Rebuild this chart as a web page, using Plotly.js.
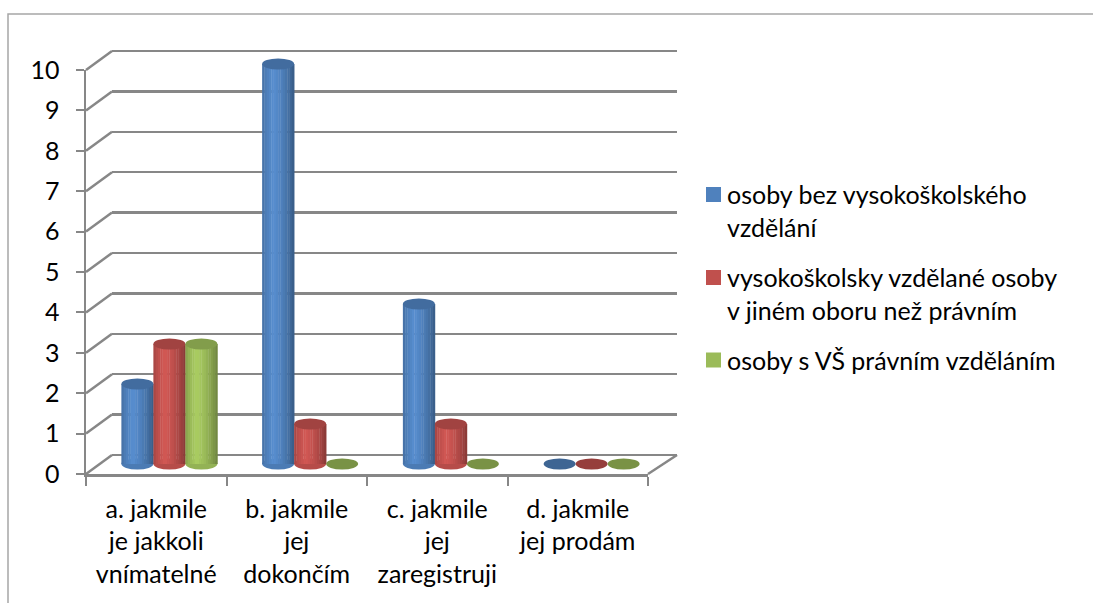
<!DOCTYPE html>
<html><head><meta charset="utf-8">
<script src="https://cdn.plot.ly/plotly-3.0.1.min.js"></script>
<style>html,body{margin:0;padding:0;background:#fff}#chart{width:1093px;height:603px}</style>
</head><body><div id="chart"></div>
<script>
// ---- data ----
const categories = ["a. jakmile<br>je jakkoli<br>vnímatelné", "b. jakmile<br>jej<br>dokončím", "c. jakmile<br>jej<br>zaregistruji", "d. jakmile<br>jej prodám"];
const seriesNames = ["osoby bez vysokoškolského<br>vzdělání", "vysokoškolsky vzdělané osoby<br>v jiném oboru než právním", "osoby s VŠ právním vzděláním"];
const seriesBez = [2, 10, 4, 0];
const seriesJiny = [3, 1, 1, 0];
const seriesPravni = [3, 0, 0, 0];
const yTicks = [0, 1, 2, 3, 4, 5, 6, 7, 8, 9, 10];
const seriesColors = ["#4F81BD", "#C0504D", "#9BBB59"];

// ---- geometry (pixels) ----
const W = 1093, H = 603;
const px = p => p / W, py = p => 1 - p / H;
const FONT = "Lato, 'Open Sans', sans-serif";
const FS = 25;
const GRID = "#878787";
const front = {x0: 86, x1: 648, y0: 474, y1: 70};   // y0: value 0, y1: value 10
const back  = {x0: 112, x1: 677, y0: 455, y1: 51};
const bars  = {x0: 99, x1: 662, y0: 464, y1: 64};
const yMax = 10, pad = 0.5;
function padDomain(b) {
  const u = (b.y0 - b.y1) / yMax;
  return [py(b.y0 + pad * u), py(b.y1 - pad * u)];
}

function shadeColor(hex, f) {
  const n = parseInt(hex.slice(1), 16);
  const c = [(n >> 16) & 255, (n >> 8) & 255, n & 255].map(v => Math.max(0, Math.min(255, Math.round(v * f))));
  return "rgb(" + c.join(",") + ")";
}
const profT = [0, 0.12, 0.35, 0.6, 0.85, 1];
const profF = [0.86, 0.97, 1.1, 1.0, 0.84, 0.7];
function profile(t) {
  for (let i = 1; i < profT.length; i++) {
    if (t <= profT[i]) {
      const a = (t - profT[i - 1]) / (profT[i] - profT[i - 1]);
      return profF[i - 1] + a * (profF[i] - profF[i - 1]);
    }
  }
  return profF[profF.length - 1];
}

const values = [seriesBez, seriesJiny, seriesPravni];
const catW = (bars.x1 - bars.x0) / categories.length;
const bw = 32 / catW;                 // bar width in category units
const start = -1.5 * bw;
const N = 14;
const traces = [];
// invisible traces to set up the front and back axes
traces.push({type: "scatter", x: categories, y: categories.map(() => 0), xaxis: "x", yaxis: "y", mode: "markers", marker: {opacity: 0}, hoverinfo: "skip", showlegend: false});
traces.push({type: "scatter", x: [0], y: [0], xaxis: "x2", yaxis: "y2", mode: "markers", marker: {opacity: 0}, hoverinfo: "skip", showlegend: false});

values.forEach((vals, s) => {
  for (let k = 0; k < N; k++) {
    const t = (k + 0.5) / N;
    traces.push({
      type: "bar", x: categories, y: vals, xaxis: "x3", yaxis: "y3",
      width: bw / N * 1.15, offset: start + s * bw + k * bw / N,
      marker: {color: shadeColor(seriesColors[s], profile(t)), line: {width: 0}},
      hoverinfo: "skip", showlegend: false
    });
  }
});

const shapes = [];
const unit = (bars.y0 - bars.y1) / yMax;
const ry = 5.5 / unit;
values.forEach((vals, s) => {
  vals.forEach((v, i) => {
    const cx = i + start + (s + 0.5) * bw;
    if (v > 0) {
      shapes.push({type: "circle", xref: "x3", yref: "y3", layer: "below",
        x0: cx - bw / 2, x1: cx + bw / 2, y0: -ry, y1: ry,
        fillcolor: shadeColor(seriesColors[s], 0.95), line: {width: 0}});
    }
    shapes.push({type: "circle", xref: "x3", yref: "y3", layer: "above",
      x0: cx - bw / 2, x1: cx + bw / 2, y0: v - ry, y1: v + ry,
      fillcolor: shadeColor(seriesColors[s], v > 0 ? 0.84 : 0.78), line: {width: 0}});
  });
});

// left wall diagonals
const fy = v => py(front.y0 - v * (front.y0 - front.y1) / yMax);
const by = v => py(back.y0 - v * (back.y0 - back.y1) / yMax);
yTicks.forEach(v => {
  shapes.push({type: "line", xref: "paper", yref: "paper", x0: px(front.x0), y0: fy(v), x1: px(back.x0), y1: by(v), line: {color: GRID, width: 2.5}});
});
// floor right edge
shapes.push({type: "line", xref: "paper", yref: "paper", x0: px(front.x1), y0: fy(0), x1: px(back.x1), y1: by(0), line: {color: GRID, width: 2.5}});
// outer border
shapes.push({type: "rect", xref: "paper", yref: "paper", x0: px(8), y0: py(14), x1: px(1110), y1: py(640), line: {color: "#a6a6a6", width: 1.5}});

// manual legend
const legendY = [194.5, 277.5, 360];
const annotations = [];
seriesNames.forEach((name, s) => {
  shapes.push({type: "rect", xref: "paper", yref: "paper", x0: px(706), x1: px(721), y0: py(legendY[s] - 7.5), y1: py(legendY[s] + 7.5), fillcolor: seriesColors[s], line: {width: 0}});
  annotations.push({xref: "paper", yref: "paper", x: px(725), y: py(legendY[s] - 17.5), xanchor: "left", yanchor: "top", align: "left", showarrow: false, text: name, font: {family: FONT, size: FS, color: "#000"}});
});

const layout = {
  width: W, height: H, margin: {l: 0, r: 0, t: 0, b: 0},
  paper_bgcolor: "#fff", plot_bgcolor: "rgba(0,0,0,0)",
  showlegend: false, barmode: "overlay",
  font: {family: FONT, size: FS, color: "#000"},
  xaxis: {domain: [px(front.x0), px(front.x1)], type: "category", range: [-0.5, 3.5], anchor: "y",
    showline: true, linecolor: GRID, linewidth: 2.5, ticks: "outside", tickson: "boundaries", ticklen: 9, tickwidth: 2, tickcolor: GRID,
    showgrid: false, zeroline: false, ticklabelstandoff: 11, tickfont: {family: FONT, size: FS, color: "#000"}, fixedrange: true},
  yaxis: {domain: [py(front.y0), py(front.y1)], range: [0, yMax], anchor: "x", tickmode: "array", tickvals: yTicks,
    showline: true, linecolor: GRID, linewidth: 2.5, ticks: "outside", ticklen: 8, tickwidth: 2, tickcolor: GRID,
    showgrid: false, zeroline: false, ticklabelstandoff: 11, tickfont: {family: FONT, size: FS, color: "#000"}, fixedrange: true},
  xaxis2: {domain: [px(back.x0), px(back.x1)], range: [0, 1], anchor: "y2", showgrid: false, zeroline: false, showticklabels: false, ticks: "", showline: false},
  yaxis2: {domain: padDomain(back), range: [-pad, yMax + pad], anchor: "x2", tickmode: "array", tickvals: yTicks,
    showgrid: true, gridcolor: GRID, gridwidth: 2.5, zeroline: false, showticklabels: false, ticks: "", showline: false},
  xaxis3: {domain: [px(bars.x0), px(bars.x1)], type: "category", range: [-0.5, 3.5], anchor: "y3", visible: false},
  yaxis3: {domain: padDomain(bars), range: [-pad, yMax + pad], anchor: "x3", visible: false},
  shapes: shapes, annotations: annotations
};

Plotly.newPlot("chart", traces, layout, {displayModeBar: false, staticPlot: true});
</script>
</body></html>
